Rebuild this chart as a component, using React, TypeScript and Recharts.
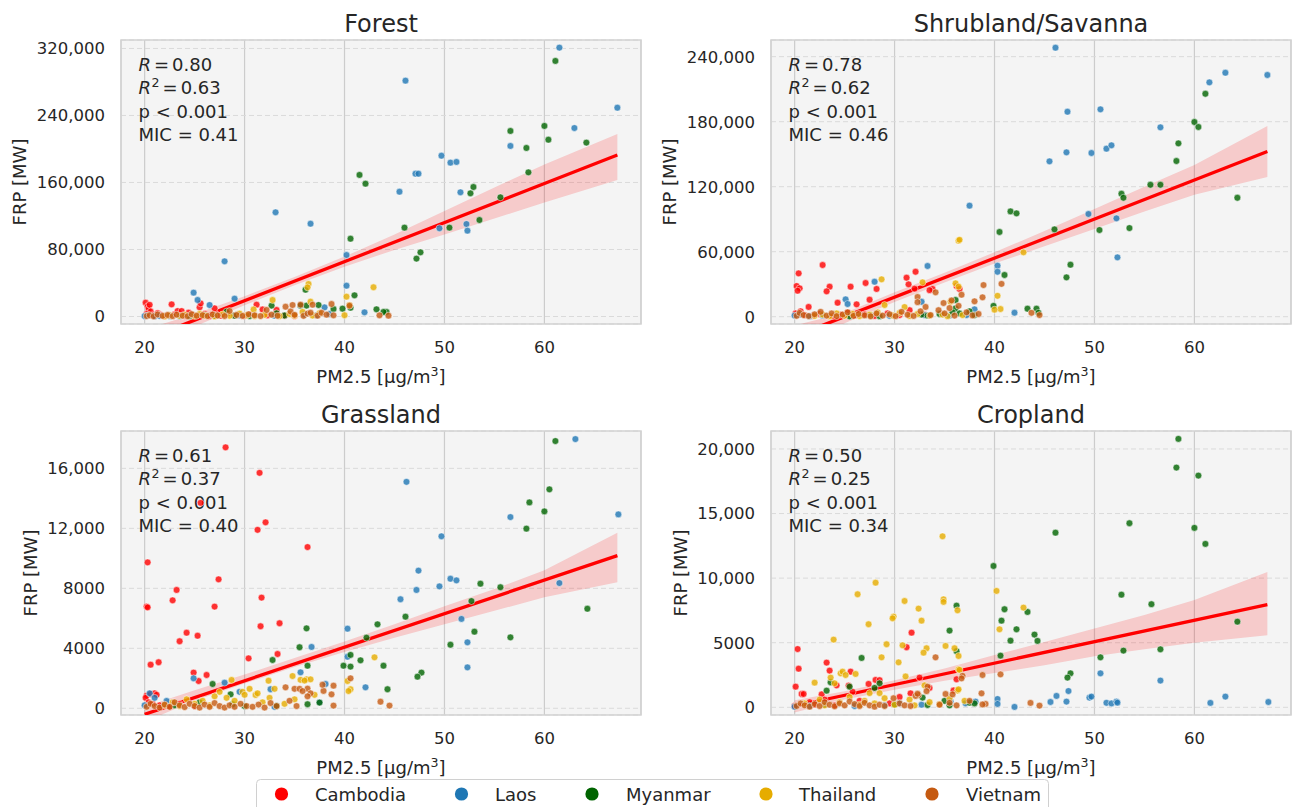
import React from 'react';
import {
  ComposedChart,
  Scatter,
  Line,
  Area,
  XAxis,
  YAxis,
  CartesianGrid,
} from 'recharts';

type Pt = [number, number];

const countries = ['Cambodia', 'Laos', 'Myanmar', 'Thailand', 'Vietnam'];
const palette = ['#ff0000', '#1f77b4', '#006400', '#e6ac00', '#c55a11'];

const xTicks = [20, 30, 40, 50, 60];
const xDomain: [number, number] = [17.635, 69.665];
const bandX = [20, 25, 30, 35, 40, 45, 50, 55, 60, 67.3];
const fitX = [20, 67.3];

// ---------- Forest ----------
const forestCambodia: Pt[] = [
  [20.1, 16500], [20.3, 12000], [20.4, 9000], [20.5, 14000], [20.6, 6000], [20.2, 3000],
  [20.8, 1500], [21.0, 800], [21.3, 4000], [21.6, 2000], [22.0, 500], [22.4, 1200],
  [22.7, 14500], [23.0, 2500], [23.3, 6500], [23.7, 6500], [24.0, 800], [24.4, 4500],
  [24.8, 1500], [25.5, 11000], [25.6, 15700], [26.0, 3000], [26.5, 600], [27.0, 9750],
  [27.2, 2200], [27.6, 1000], [28.3, 3500], [29.0, 1200], [30.0, 800], [30.5, 2500],
  [31.2, 14100], [31.8, 8400], [32.3, 1500], [33.2, 7800], [34.0, 900], [35.0, 500],
];
const forestLaos: Pt[] = [
  [61.5, 321000], [46.1, 281600], [67.3, 249300], [63.0, 225000], [56.6, 203600],
  [49.7, 192000], [50.6, 183700], [51.2, 184500], [47.1, 170500], [47.4, 170500],
  [45.5, 149000], [51.6, 148300], [52.2, 110400], [52.3, 102500], [49.5, 105300],
  [33.1, 124400], [36.6, 110800], [28.0, 65900], [40.2, 73400], [40.2, 36800],
  [24.9, 28500], [25.3, 19700], [29.0, 21300], [26.5, 13700], [42.0, 5000], [37.2, 1400],
  [38.0, 10900], [35.6, 12900], [20.0, 500], [20.3, 1200], [21.0, 300], [21.5, 800],
  [22.5, 600], [23.5, 200], [29.5, 1500], [33.0, 1000], [36.0, 2500], [38.5, 3000],
];
const forestMyanmar: Pt[] = [
  [61.1, 305100], [60.0, 227500], [56.6, 221500], [60.4, 211100], [64.2, 207600],
  [58.2, 201200], [58.4, 172100], [41.5, 169000], [42.1, 158600], [52.9, 154600],
  [52.6, 147100], [55.6, 142300], [53.5, 115200], [46.0, 106100], [50.5, 106100],
  [40.6, 92900], [47.6, 76600], [47.2, 69100], [36.1, 32000], [41.0, 25300], [43.2, 8600],
  [39.8, 9400], [32.7, 13000], [35.6, 13000], [36.2, 13000], [37.4, 13700], [44.2, 5400],
  [43.9, 5400], [40.6, 10500], [28.2, 5800], [33.2, 3800], [38.9, 9000], [24.5, 500],
  [26.0, 1500], [27.0, 800], [29.0, 1000], [30.5, 500], [34.0, 1200],
];
const forestThailand: Pt[] = [
  [36.4, 38800], [36.3, 34800], [42.9, 34900], [40.2, 23700], [32.8, 19700], [36.6, 17700],
  [40.5, 13700], [30.9, 8400], [22.0, 300], [22.5, 1500], [23.5, 800], [24.0, 2000],
  [25.0, 600], [25.5, 3000], [26.0, 1200], [27.0, 400], [27.8, 2500], [28.5, 900],
  [29.5, 3500], [30.2, 1500], [31.0, 600], [32.0, 2000], [33.5, 500], [34.5, 3000],
  [35.0, 1000], [35.8, 5500], [36.8, 1200], [37.5, 4000], [40.0, 1500],
];
const forestVietnam: Pt[] = [
  [20.2, 500], [20.5, 1500], [20.9, 300], [21.3, 2500], [21.8, 800], [22.3, 1800],
  [22.8, 400], [23.2, 2200], [23.8, 1000], [24.3, 300], [24.7, 2800], [25.2, 900],
  [25.8, 1600], [26.3, 500], [26.8, 2400], [27.3, 1200], [28.0, 600], [28.5, 6600],
  [29.2, 1800], [29.8, 700], [30.4, 2600], [31.0, 1400], [31.6, 500], [32.2, 7800],
  [32.7, 2200], [33.3, 900], [34.1, 11700], [34.6, 6000], [34.8, 13700], [35.0, 2000],
  [35.6, 14100], [35.9, 800], [36.3, 3500], [36.6, 4500], [36.8, 14100], [37.3, 1000],
  [37.7, 4500], [38.2, 2200], [38.7, 14900], [38.9, 1400], [40.5, 12900], [43.5, 1400],
  [44.4, 1000],
];
const forestFitY = [-27740, 192800];
const forestBandLo = [-40000, -12000, 13500, 37300, 59500, 79500, 98000, 117000, 136000, 163000];
const forestBandHi = [-15500, 3000, 24300, 47100, 71500, 98000, 126000, 154000, 181500, 218000];
const forestTicks = [0, 80000, 160000, 240000, 320000];
const forestStats = ['0.80', '0.63', '0.41'];

// ---------- Shrubland/Savanna ----------
const shrubCambodia: Pt[] = [
  [22.8, 47700], [20.4, 40000], [20.2, 28300], [20.5, 26200], [20.3, 24000], [23.5, 27700],
  [23.2, 23400], [25.6, 27700], [27.1, 31100], [28.2, 25600], [27.5, 15700], [26.2, 11400],
  [24.3, 12900], [21.4, 9000], [31.2, 36000], [32.1, 41500], [31.4, 29900], [32.0, 25900],
  [33.8, 25600], [33.5, 24500], [36.2, 28300], [36.5, 25600], [20.1, 3000], [20.6, 5000],
  [21.0, 1500], [21.8, 800], [22.5, 2500], [23.8, 600], [24.6, 1800], [25.3, 4000],
  [26.0, 900], [27.0, 2200], [28.0, 700], [29.3, 3000], [30.5, 1500], [31.5, 6000], [33.0, 2000],
];
const shrubLaos: Pt[] = [
  [46.1, 248300], [63.1, 225200], [67.3, 223100], [61.5, 216300], [47.3, 189200],
  [50.6, 191400], [56.6, 174800], [47.2, 151700], [49.7, 151100], [51.2, 155100],
  [51.7, 158200], [45.5, 143400], [49.4, 94800], [52.2, 90800], [52.3, 54800],
  [37.5, 102500], [33.3, 46800], [40.3, 47100], [40.3, 41500], [28.0, 32300], [25.1, 16000],
  [25.3, 11700], [32.7, 13800], [42.0, 3700], [38.0, 6800], [37.2, 1500], [20.0, 1000],
  [20.5, 2000], [21.5, 500], [22.8, 1200], [29.5, 800], [33.0, 1500], [35.5, 1000],
];
const shrubMyanmar: Pt[] = [
  [61.1, 205800], [60.0, 179700], [60.4, 175100], [58.4, 160000], [58.2, 143700],
  [55.6, 121800], [56.6, 121800], [52.7, 113500], [52.9, 109800], [64.3, 109800],
  [41.6, 97200], [42.2, 95400], [40.5, 78200], [46.0, 80600], [50.5, 80000], [53.5, 81800],
  [47.6, 48000], [47.2, 36300], [41.0, 38500], [39.9, 10000], [43.3, 7400], [44.2, 7400],
  [44.4, 3600], [36.1, 15400], [36.1, 7700], [32.7, 2000], [33.3, 1000], [27.6, 1200],
  [28.5, 500], [25.5, 300], [34.5, 2500], [35.8, 4000], [36.5, 3000], [37.5, 5000], [38.0, 1500],
];
const shrubThailand: Pt[] = [
  [36.4, 70200], [36.5, 71000], [42.9, 59400], [28.7, 34500], [32.8, 31700], [36.1, 30800],
  [36.4, 27700], [40.3, 19300], [40.6, 7100], [35.6, 13800], [29.0, 10800], [31.0, 8900],
  [40.0, 6500], [22.0, 800], [22.8, 2000], [23.5, 500], [24.2, 3000], [25.0, 1000],
  [25.8, 2500], [26.5, 600], [27.5, 1800], [28.3, 4000], [29.8, 1200], [30.5, 3500],
  [31.5, 700], [32.3, 2500], [33.5, 1000], [34.8, 2000], [35.3, 500], [36.8, 1500],
];
const shrubVietnam: Pt[] = [
  [38.9, 29200], [38.8, 17900], [38.0, 14200], [36.7, 20300], [35.7, 15000], [34.9, 12600],
  [34.1, 22500], [32.3, 18200], [32.3, 13400], [40.7, 30300], [43.7, 3600], [44.5, 1500],
  [20.2, 800], [20.5, 3500], [20.9, 1500], [21.4, 600], [22.0, 2200], [22.6, 4500],
  [23.2, 1000], [23.7, 3000], [24.2, 500], [24.8, 2000], [25.3, 4000], [25.9, 800],
  [26.4, 2500], [27.0, 1200], [27.6, 400], [28.2, 3000], [28.8, 1000], [29.5, 2200],
  [30.1, 500], [30.7, 4500], [31.3, 1800], [31.9, 700], [32.6, 5000], [33.1, 9000],
  [33.6, 1500], [34.4, 6000], [35.0, 3000], [35.5, 8000], [36.0, 1000], [36.4, 10000],
  [37.2, 4000], [37.8, 1200], [38.4, 2500],
];
const shrubFitY = [-18000, 152500];
const shrubBandLo = [-28000, -6000, 13500, 31500, 49000, 65000, 81000, 97000, 112500, 129000];
const shrubBandHi = [-8000, 3500, 22500, 40500, 59500, 79000, 99500, 120000, 140000, 176000];
const shrubTicks = [0, 60000, 120000, 180000, 240000];
const shrubStats = ['0.78', '0.62', '0.46'];

// ---------- Grassland ----------
const grassCambodia: Pt[] = [
  [28.1, 17400], [31.5, 15700], [25.6, 13700], [32.1, 12400], [31.3, 11900], [36.3, 10750],
  [20.3, 9730], [27.4, 8600], [23.2, 7890], [22.8, 7200], [31.7, 7380], [20.2, 6780],
  [20.3, 6730], [27.0, 6780], [31.6, 5470], [33.5, 5670], [24.2, 5040], [25.3, 4840],
  [23.5, 4470], [33.3, 3620], [30.4, 3330], [21.4, 3070], [20.6, 2910], [24.9, 2380],
  [26.2, 2220], [25.4, 1820], [20.2, 850], [20.6, 950], [21.0, 1000], [21.2, 900],
  [20.1, 700], [20.4, 400], [20.8, 300], [21.5, 200], [22.5, 100], [23.5, 300], [25.0, 150],
];
const grassLaos: Pt[] = [
  [63.1, 17950], [46.2, 15100], [67.4, 12930], [56.6, 12750], [49.7, 11470], [47.4, 9180],
  [47.2, 7890], [49.5, 8130], [50.6, 8640], [51.2, 8530], [45.6, 7270], [61.5, 8350],
  [51.7, 5960], [52.3, 4400], [52.3, 2730], [40.3, 5310], [40.3, 3440], [36.7, 4090],
  [42.1, 1400], [35.6, 2400], [38.1, 1620], [24.9, 2000], [28.0, 1710], [32.6, 1270],
  [20.5, 1000], [22.2, 490], [20.0, 200], [21.0, 700], [29.5, 1100], [37.5, 400], [33.0, 100],
];
const grassMyanmar: Pt[] = [
  [61.1, 17820], [60.5, 14600], [58.5, 13730], [60.0, 13130], [58.2, 11980], [53.6, 8310],
  [55.6, 8070], [52.7, 7150], [64.3, 6640], [46.1, 6110], [43.3, 5600], [53.0, 5110],
  [36.2, 5330], [56.6, 4730], [42.2, 4710], [50.6, 4240], [35.5, 4070], [40.6, 3560],
  [32.8, 3220], [41.6, 3200], [36.3, 2840], [39.9, 2840], [40.6, 2780], [43.9, 2840],
  [47.7, 2380], [47.3, 2110], [44.3, 1270], [26.8, 1620], [28.6, 930], [28.8, 270],
  [37.5, 380], [36.3, 270], [33.2, 160], [23.0, 200], [25.5, 400], [30.0, 150],
];
const grassThailand: Pt[] = [
  [43.0, 3400], [34.8, 2150], [36.2, 1930], [36.6, 1930], [40.3, 1820], [40.6, 1270],
  [28.7, 1890], [32.4, 1840], [31.1, 890], [30.5, 1300], [29.8, 1100], [31.3, 1000],
  [35.6, 1900], [36.0, 1850], [27.5, 1100], [28.2, 700], [29.0, 500], [30.0, 900],
  [22.0, 200], [22.8, 400], [23.5, 150], [24.2, 600], [25.0, 300], [25.8, 500], [26.5, 200],
  [27.0, 800], [31.8, 400], [32.5, 700], [33.0, 1300], [34.0, 300], [35.0, 600], [37.0, 900],
  [40.4, 1150],
];
const grassVietnam: Pt[] = [
  [36.3, 1310], [36.6, 1000], [38.9, 1510], [37.9, 1160], [40.6, 2000], [43.6, 440],
  [44.5, 180], [38.9, 180], [34.1, 1400], [35.0, 1300], [35.5, 1300], [37.8, 1570],
  [38.7, 930], [36.3, 800], [35.8, 1150], [20.2, 100], [20.6, 300], [21.0, 150], [21.5, 50],
  [22.0, 250], [22.5, 100], [23.0, 400], [23.5, 200], [24.0, 80], [24.5, 300], [25.0, 150],
  [25.5, 50], [26.0, 250], [26.5, 100], [27.0, 350], [27.5, 150], [28.0, 50], [28.5, 200],
  [29.0, 100], [29.6, 300], [30.2, 150], [30.8, 100], [31.4, 250], [32.0, 50], [32.6, 350],
  [33.2, 150], [34.5, 500], [35.2, 150],
];
const grassFitY = [-400, 10180];
const grassBandLo = [-900, 500, 1650, 2750, 3750, 4700, 5600, 6500, 7400, 8400];
const grassBandHi = [100, 1200, 2250, 3350, 4450, 5600, 6800, 7950, 9200, 11700];
const grassTicks = [0, 4000, 8000, 12000, 16000];
const grassStats = ['0.61', '0.37', '0.40'];

// ---------- Cropland ----------
const cropCambodia: Pt[] = [
  [20.3, 4510], [20.4, 2990], [23.2, 3460], [23.5, 2840], [25.6, 2760], [20.1, 1600],
  [20.7, 1030], [20.9, 1030], [28.1, 2120], [27.4, 1810], [36.2, 2170], [31.2, 4650],
  [31.7, 5780], [24.2, 1700], [25.4, 1680], [31.6, 1080], [32.5, 2300], [22.7, 1000],
  [25.8, 1200], [28.5, 2100], [21.5, 400], [22.0, 200], [23.0, 600], [24.0, 150],
  [26.5, 500], [29.5, 300], [30.5, 800], [33.5, 1500], [35.9, 1300], [20.0, 100],
];
const cropLaos: Pt[] = [
  [67.4, 410], [63.1, 830], [61.6, 340], [56.6, 2070], [50.6, 2630], [49.5, 750],
  [49.7, 830], [47.4, 1260], [46.2, 880], [45.6, 410], [47.2, 440], [51.2, 350],
  [51.7, 300], [52.2, 440], [52.3, 360], [42.0, 30], [40.3, 640], [40.3, 260], [37.1, 310],
  [38.1, 440], [32.7, 200], [29.0, 150], [35.6, 450], [20.0, 50], [21.5, 100], [23.0, 200],
  [26.0, 100], [30.5, 300],
];
const cropMyanmar: Pt[] = [
  [58.4, 20780], [58.2, 18560], [60.4, 17940], [53.5, 14250], [60.0, 13890], [46.1, 13520],
  [61.1, 12650], [39.9, 10940], [52.7, 8720], [55.7, 7980], [36.2, 7870], [41.0, 7590],
  [43.3, 7380], [40.7, 6710], [64.3, 6630], [42.2, 6040], [35.5, 5940], [44.0, 5630],
  [41.6, 5160], [44.3, 5140], [36.2, 4340], [56.6, 4490], [52.9, 4390], [40.6, 4000],
  [26.7, 3820], [50.6, 3870], [47.6, 2630], [47.3, 2300], [28.5, 1860], [23.6, 1940],
  [25.5, 1600], [23.2, 1290], [32.8, 750], [33.3, 180], [35.0, 500], [35.5, 150],
  [37.5, 360], [28.0, 1500], [30.0, 200], [38.0, 300],
];
const cropThailand: Pt[] = [
  [34.8, 13240], [28.1, 9650], [40.2, 9010], [26.3, 8750], [34.9, 8360], [34.9, 8160],
  [31.0, 8230], [42.9, 7720], [32.4, 7640], [36.3, 7510], [29.9, 7020], [29.8, 6890],
  [32.7, 6710], [27.4, 6430], [40.5, 6040], [23.9, 5240], [30.8, 4800], [29.2, 4880],
  [35.1, 4750], [36.0, 4570], [36.4, 3970], [33.2, 4570], [32.9, 4230], [28.7, 3870],
  [30.4, 3480], [36.4, 2940], [23.6, 2300], [24.6, 2630], [24.8, 2760], [25.1, 2500],
  [26.1, 2580], [22.0, 1910], [24.0, 1860], [31.1, 2390], [33.0, 1700], [36.5, 2900],
  [36.3, 1300], [36.4, 1390], [28.5, 1100], [27.5, 1100], [21.0, 300], [22.5, 600],
  [23.0, 150], [24.5, 400], [25.5, 800], [26.5, 200], [27.0, 500], [28.0, 300], [29.0, 700],
  [30.0, 200], [31.5, 600], [32.0, 150], [33.5, 400], [34.5, 250], [35.5, 700], [37.0, 500],
];
const cropVietnam: Pt[] = [
  [34.1, 3870], [36.8, 2440], [36.7, 2240], [38.8, 2500], [40.6, 2550], [38.7, 1080],
  [33.3, 1600], [32.4, 950], [35.1, 1030], [43.6, 340], [44.5, 130], [39.1, 260],
  [29.9, 700], [32.1, 880], [32.3, 1050], [33.2, 1250], [35.8, 1000], [38.8, 220],
  [20.2, 100], [20.6, 300], [21.0, 150], [21.5, 50], [22.0, 250], [22.5, 100], [23.0, 400],
  [23.5, 200], [24.0, 80], [24.5, 300], [25.0, 150], [25.5, 450], [26.0, 250], [26.5, 100],
  [27.0, 350], [27.5, 150], [28.0, 50], [28.5, 200], [29.0, 100], [30.5, 300], [31.0, 150],
  [31.6, 100], [34.5, 200], [35.5, 350], [36.2, 150], [37.5, 500],
];
const cropFitY = [100, 7950];
const cropBandLo = [-400, 600, 1350, 2050, 2650, 3250, 3950, 4500, 5000, 5580];
const cropBandHi = [550, 1250, 2100, 3000, 4050, 5050, 6100, 7150, 8300, 10480];
const cropTicks = [0, 5000, 10000, 15000, 20000];
const cropStats = ['0.50', '0.25', '0.34'];

const TEXT = '#262626';
const FONT = "'DejaVu Sans', sans-serif";

const fmtTick = (v: number) => (v >= 10000 ? v.toLocaleString('en-US') : String(v));

const dotShape = (color: string) => (p: any) => (
  <circle cx={p.cx} cy={p.cy} r={3.4} fill={color} fillOpacity={0.8} stroke="#ffffff" strokeWidth={0.5} />
);

interface PanelProps {
  left: number;
  top: number;
  width: number;
  title: string;
  series: Pt[][];
  fitY: number[];
  bandLo: number[];
  bandHi: number[];
  yTicks: number[];
  yDomain: [number, number];
  stats: string[];
  yLabelX: number;
}

const Panel: React.FC<PanelProps> = ({
  left, top, width, title, series, fitY, bandLo, bandHi, yTicks, yDomain, stats, yLabelX,
}) => {
  const fit = fitX.map((x, i) => ({ x, y: fitY[i] }));
  const band = bandX.map((x, i) => ({ x, band: [bandLo[i], bandHi[i]] }));
  const px = 121;
  const pw = 520;
  const py = 40;
  const ph = 284;
  const tx = 138.5;
  return (
    <div style={{ position: 'absolute', left, top }}>
      <ComposedChart width={width} height={400} margin={{ top: py, right: width - px - pw, bottom: 36, left: 0 }}>
        <CartesianGrid horizontal={false} stroke="#cccccc" strokeWidth={1.2} fill="#f4f4f4" fillOpacity={1} />
        <CartesianGrid vertical={false} stroke="#dadada" strokeWidth={1} strokeDasharray="5 3" />
        <XAxis
          type="number"
          dataKey="x"
          domain={xDomain}
          ticks={xTicks}
          interval={0}
          allowDataOverflow
          height={40}
          tickLine={false}
          axisLine={false}
          tickSize={0}
          tickMargin={17.5}
          tick={{ fill: TEXT, fontSize: 16.5 }}
        />
        <YAxis
          type="number"
          dataKey="y"
          domain={yDomain}
          ticks={yTicks}
          interval={0}
          allowDataOverflow
          width={px}
          tickLine={false}
          axisLine={false}
          tickSize={0}
          tickMargin={16}
          tickFormatter={fmtTick}
          tick={{ fill: TEXT, fontSize: 16.5 }}
        />
        {series.map((pts, i) => (
          <Scatter
            key={countries[i]}
            name={countries[i]}
            data={pts.map(([x, y]) => ({ x, y }))}
            dataKey="y"
            fill={palette[i]}
            shape={dotShape(palette[i])}
            isAnimationActive={false}
          />
        ))}
        <Area data={band} dataKey="band" type="linear" stroke="none" fill="#ff0000" fillOpacity={0.17} isAnimationActive={false} />
        <Line data={fit} dataKey="y" type="linear" stroke="#ff0000" strokeWidth={3.3} dot={false} isAnimationActive={false} />
        <rect x={px} y={py} width={pw} height={ph} fill="none" stroke="#d2d2d2" strokeWidth={1.5} />
        <text x={px + pw / 2} y={31.5} textAnchor="middle" fontSize={24} fill={TEXT}>{title}</text>
        <text
          x={yLabelX}
          y={py + ph / 2}
          textAnchor="middle"
          fontSize={18}
          fill={TEXT}
          transform={`rotate(-90 ${yLabelX} ${py + ph / 2})`}
        >
          FRP [MW]
        </text>
        <text x={px + pw / 2} y={383} textAnchor="middle" fontSize={18} fill={TEXT}>
          PM2.5 [μg/m<tspan fontSize={12.6} dy={-7}>3</tspan><tspan dy={7}>]</tspan>
        </text>
        <text x={tx} y={70.5} fontSize={18} fill={TEXT}>
          <tspan fontStyle="italic">R</tspan><tspan dx={3}>=</tspan><tspan dx={3}>{stats[0]}</tspan>
        </text>
        <text x={tx} y={94} fontSize={18} fill={TEXT}>
          <tspan fontStyle="italic">R</tspan>
          <tspan fontSize={12.6} dx={0.5} dy={-7}>2</tspan>
          <tspan dx={3} dy={7}>=</tspan><tspan dx={3}>{stats[1]}</tspan>
        </text>
        <text x={tx} y={117.5} fontSize={18} fill={TEXT}>p &lt; 0.001</text>
        <text x={tx} y={140.5} fontSize={18} fill={TEXT}>MIC = {stats[2]}</text>
      </ComposedChart>
    </div>
  );
};

const legendDotX = [281.5, 461.5, 592, 766, 932];
const legendTextX = [315, 495, 626, 799, 966];

export default function App() {
  return (
    <div style={{ position: 'absolute', left: 0, top: 0, width: 1293, height: 807, overflow: 'hidden', background: '#ffffff', fontFamily: FONT }}>
      <Panel
        left={0} top={0} width={650} title="Forest"
        series={[forestCambodia, forestLaos, forestMyanmar, forestThailand, forestVietnam]}
        fitY={forestFitY} bandLo={forestBandLo} bandHi={forestBandHi}
        yTicks={forestTicks} yDomain={[-8950, 330100]} stats={forestStats} yLabelX={25.8}
      />
      <Panel
        left={650} top={0} width={643} title="Shrubland/Savanna"
        series={[shrubCambodia, shrubLaos, shrubMyanmar, shrubThailand, shrubVietnam]}
        fitY={shrubFitY} bandLo={shrubBandLo} bandHi={shrubBandHi}
        yTicks={shrubTicks} yDomain={[-6740, 255400]} stats={shrubStats} yLabelX={25.6}
      />
      <Panel
        left={0} top={391} width={650} title="Grassland"
        series={[grassCambodia, grassLaos, grassMyanmar, grassThailand, grassVietnam]}
        fitY={grassFitY} bandLo={grassBandLo} bandHi={grassBandHi}
        yTicks={grassTicks} yDomain={[-447, 18490]} stats={grassStats} yLabelX={37}
      />
      <Panel
        left={650} top={391} width={643} title="Cropland"
        series={[cropCambodia, cropLaos, cropMyanmar, cropThailand, cropVietnam]}
        fitY={cropFitY} bandLo={cropBandLo} bandHi={cropBandHi}
        yTicks={cropTicks} yDomain={[-596, 21390]} stats={cropStats} yLabelX={36.6}
      />
      <svg style={{ position: 'absolute', left: 0, top: 0 }} width={1293} height={807}>
        <rect x={256.5} y={779.5} width={792} height={40} rx={4} fill="#ffffff" stroke="#d0d0d0" strokeWidth={1} />
        {countries.map((c, i) => (
          <g key={c}>
            <circle cx={legendDotX[i]} cy={794} r={6.6} fill={palette[i]} />
            <text x={legendTextX[i]} y={801} fontSize={18} fill={TEXT}>{c}</text>
          </g>
        ))}
      </svg>
    </div>
  );
}
